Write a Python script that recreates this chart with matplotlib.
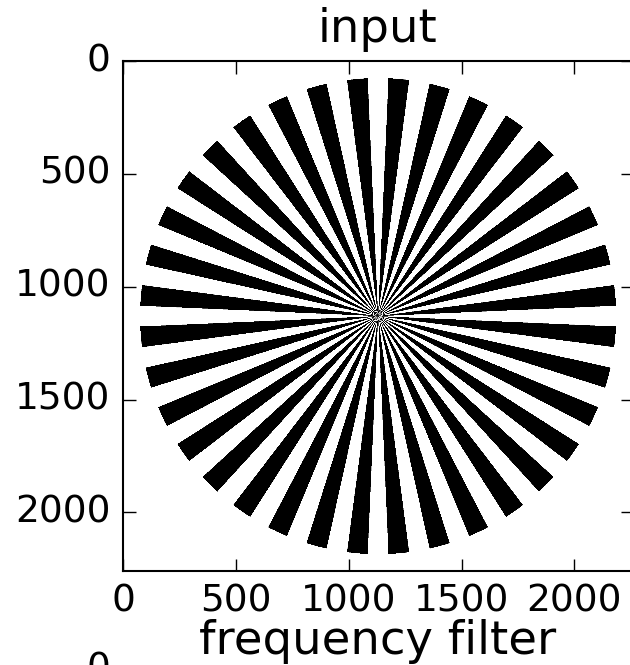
import numpy as np
import matplotlib
matplotlib.use('Agg')
import matplotlib.pyplot as plt

plt.style.use('classic')
plt.rcParams['font.family'] = ['DejaVu Sans']

# Siemens star test pattern
size = 2260          # image side in pixels
center = 1130        # star centre
radius = 1055        # star radius
n_spokes = 36        # number of black spokes

titles = ['input', 'frequency filter']
ticks = [0, 500, 1000, 1500, 2000]

yy, xx = np.mgrid[0:size, 0:size].astype(np.float32)
dx = xx - center
dy = yy - center
theta = np.arctan2(dy, dx)
r = np.hypot(dx, dy)
star = np.ones((size, size), dtype=np.uint8)
star[(np.cos(n_spokes * theta) < 0) & (r <= radius)] = 0

fig = plt.figure(figsize=(6.3, 6.65), dpi=100, facecolor='white')

ax = fig.add_axes([123 / 630, (665 - 571) / 665, 510 / 630, 510 / 665])
ax.imshow(star, cmap='gray', interpolation='bilinear', vmin=0, vmax=1)
ax.set_xticks(ticks)
ax.set_yticks(ticks)
ax.set_title(titles[0], fontsize=33.5, pad=14)
ax.tick_params(labelsize=27, length=9, width=1, direction='in', pad=9)
for s in ax.spines.values():
    s.set_linewidth(1.5)

# second panel sits mostly below the visible area
ax2 = fig.add_axes([123 / 630, -0.6, 510 / 630, 0.6 - 4 / 665])
ax2.set_xlim(-0.5, size - 0.5)
ax2.set_ylim(size - 0.5, -0.5)
ax2.set_yticks(ticks)
ax2.set_xticks(ticks)
ax2.set_title(titles[1], fontsize=33.5, pad=11)
ax2.tick_params(labelsize=27, length=9, width=1, direction='in', pad=9)

fig.savefig('out.png', dpi=100, facecolor='white')
